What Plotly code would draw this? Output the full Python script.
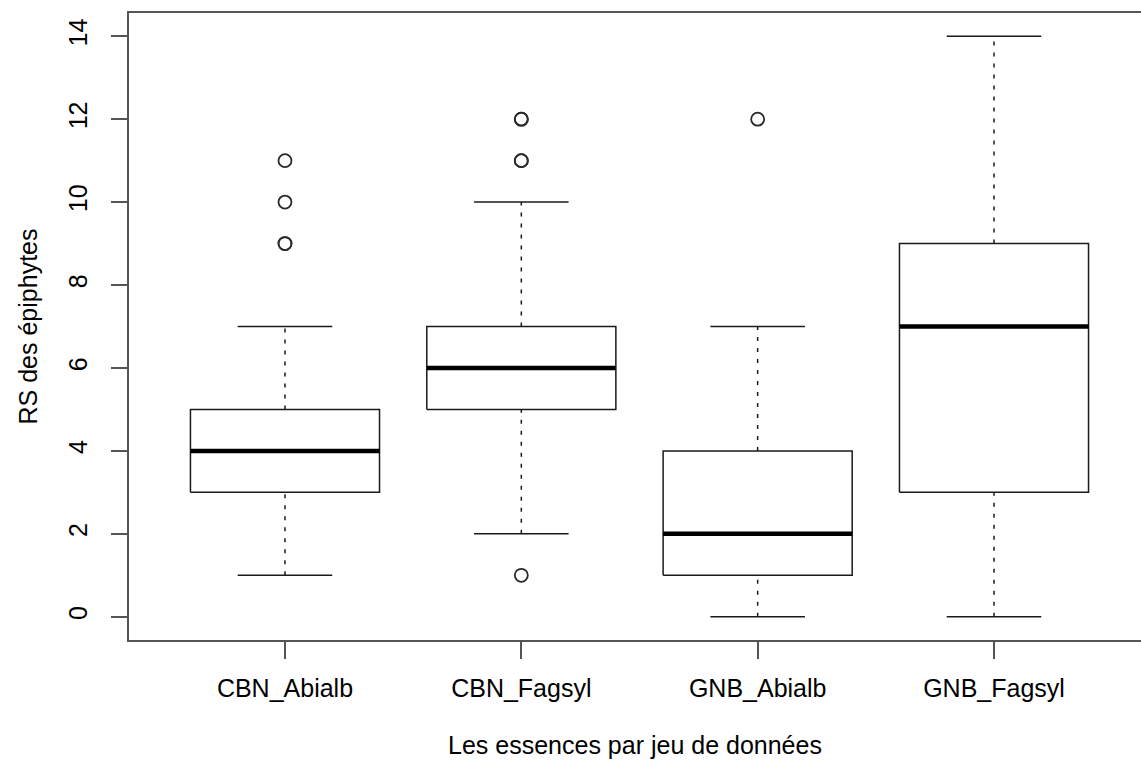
import numpy as np
import plotly.graph_objects as go

# Species per dataset and their five-number summaries
categories = ["CBN_Abialb", "CBN_Fagsyl", "GNB_Abialb", "GNB_Fagsyl"]
lower_whisker = [1, 2, 0, 0]
q1 = [3, 5, 1, 3]
median = [4, 6, 2, 7]
q3 = [5, 7, 4, 9]
upper_whisker = [7, 10, 7, 14]
# Outlying values (repeated values are drawn on top of each other)
outliers = [
    [9, 9, 10, 11],
    [1, 11, 11, 12, 12],
    [12],
    [],
]

pos = np.arange(1, len(categories) + 1)
half_box = 0.4
half_cap = 0.2
LINE = "#1a1a1a"
FONT = "Liberation Sans, Arial, Helvetica, sans-serif"


def segments(x0, x1, y0, y1):
    xs, ys = [], []
    for a, b, c, d in zip(x0, x1, y0, y1):
        xs += [a, b, None]
        ys += [c, d, None]
    return xs, ys


fig = go.Figure()

# dotted whiskers
wx, wy = segments(list(pos) * 2, list(pos) * 2,
                  list(q3) + list(lower_whisker), list(upper_whisker) + list(q1))
fig.add_trace(go.Scatter(x=wx, y=wy, mode="lines", hoverinfo="skip",
                         line=dict(color=LINE, width=1.5, dash="4px,7px")))

# whisker caps
cx, cy = segments(list(pos - half_cap) * 2, list(pos + half_cap) * 2,
                  list(lower_whisker) + list(upper_whisker),
                  list(lower_whisker) + list(upper_whisker))
fig.add_trace(go.Scatter(x=cx, y=cy, mode="lines", hoverinfo="skip",
                         line=dict(color=LINE, width=1.5)))

# boxes
bx, by = [], []
for p, lo, hi in zip(pos, q1, q3):
    bx += [p - half_box, p + half_box, p + half_box, p - half_box, p - half_box, None]
    by += [lo, lo, hi, hi, lo, None]
fig.add_trace(go.Scatter(x=bx, y=by, mode="lines", hoverinfo="skip",
                         line=dict(color=LINE, width=1.5)))

# medians
mx, my = segments(pos - half_box, pos + half_box, median, median)
fig.add_trace(go.Scatter(x=mx, y=my, mode="lines", hoverinfo="skip",
                         line=dict(color="#000000", width=4.5)))

# outliers
ox, oy = [], []
for p, vals in zip(pos, outliers):
    ox += [p] * len(vals)
    oy += vals
fig.add_trace(go.Scatter(x=ox, y=oy, mode="markers", hoverinfo="skip",
                         marker=dict(symbol="circle-open", size=13, color="#2a2a2a",
                                     line=dict(width=1.8, color="#2a2a2a"))))

fig.update_layout(
    width=1141, height=760,
    margin=dict(l=129, r=0, t=13, b=120),
    paper_bgcolor="white", plot_bgcolor="white",
    showlegend=False,
    font=dict(family=FONT, size=25, color="#000000"),
    xaxis=dict(
        range=[0.34, 4.622],
        tickmode="array", tickvals=list(pos), ticktext=categories,
        ticks="outside", ticklen=17, tickwidth=1.5, tickcolor="#555555",
        showline=True, linecolor="#555555", linewidth=1.5, mirror=True,
        showgrid=False, zeroline=False,
        tickfont=dict(size=25), ticklabelstandoff=8,
        title=dict(text="Les essences par jeu de données", standoff=36,
                   font=dict(size=25)),
    ),
    yaxis=dict(
        range=[-0.56, 14.56],
        tickmode="array", tickvals=list(range(0, 15, 2)),
        ticks="outside", ticklen=16, tickwidth=1.5, tickcolor="#555555",
        showline=True, linecolor="#555555", linewidth=1.5,
        showgrid=False, zeroline=False,
        tickangle=-90, tickfont=dict(size=25), ticklabelstandoff=14,
        title=dict(text="RS des épiphytes", standoff=20, font=dict(size=25)),
    ),
)

fig.write_html("out.html")
